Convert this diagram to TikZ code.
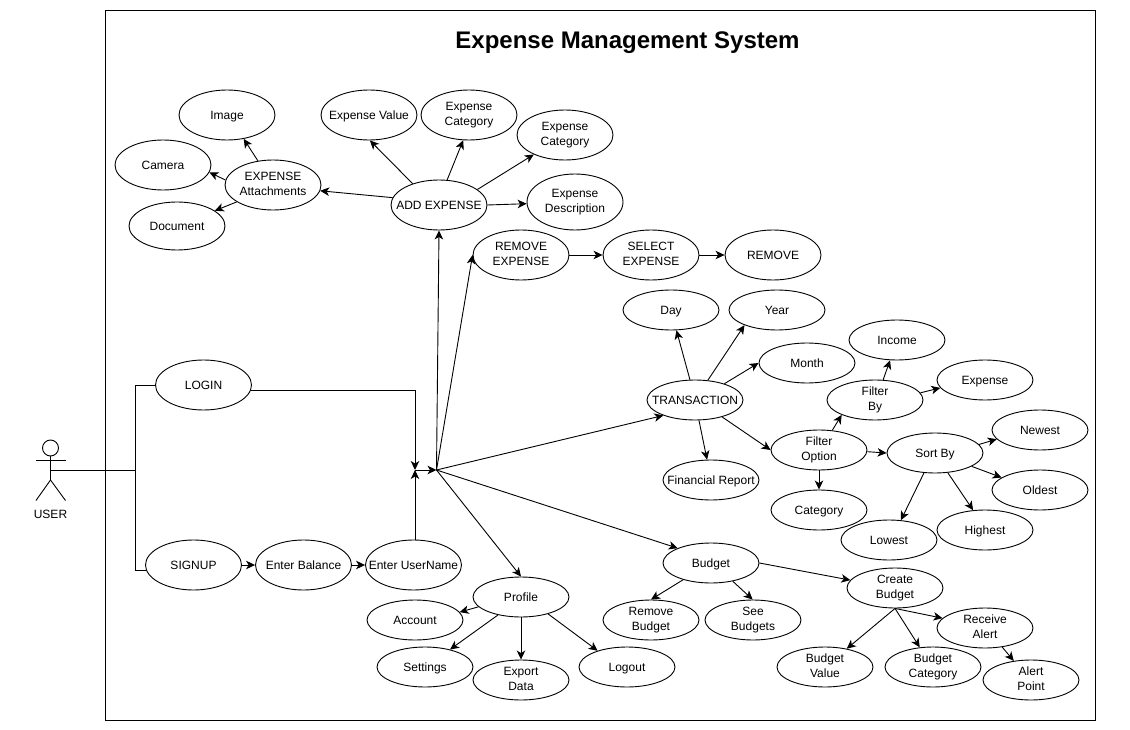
\documentclass[tikz,border=0pt]{standalone}
\usepackage{fontspec}
\setmainfont{Liberation Sans}
\usetikzlibrary{arrows.meta,shapes.geometric}

\begin{document}
\begin{tikzpicture}[x=1pt,y=-1pt]
\tikzset{usecase/.style = {shape=ellipse,draw,line width=0.9pt,inner sep=-50pt,minimum width=96pt,minimum height=40pt,align=center,font=\fontsize{12}{15}\selectfont,execute at begin node={\rule{0pt}{12pt}},execute at end node={\rule[-3pt]{0pt}{3pt}}}}
\tikzset{bigcase/.style = {usecase,minimum height=50pt}}
\tikzset{pair/.style = {execute at end node={\rule[-1pt]{0pt}{1pt}},execute at begin node={\rule{0pt}{18pt}}}}
\tikzset{edge/.style = {->,> = {Stealth[length=9pt,width=8.5pt,inset=2.5pt]},line width=0.9pt}}
\tikzset{wire/.style = {-,line width=0.9pt}}
\useasboundingbox (0,0) rectangle (1130,730);
\node[draw,line width=0.9pt,minimum width=990pt,minimum height=710pt,inner sep=0pt] (frame) at (600.5,365) {};
\node[font=\fontsize{24}{28}\selectfont\bfseries] (title) at (627.5,42.5) {Expense Management System};
% actor
\node[draw,shape=circle,line width=0.9pt,minimum size=16pt,inner sep=0pt] (head) at (50.5,448) {};
\coordinate (waist) at (50.5,480);
\coordinate (armL) at (36,460);
\coordinate (armR) at (65.5,460);
\coordinate (legL) at (36,500.5);
\coordinate (legR) at (65.5,500.5);
\coordinate (belt) at (50.5,470);
\node[font=\fontsize{12}{15}\selectfont] (user) at (50.5,514) {USER};
\draw[wire] (head) to (waist);
\draw[wire] (armL) to (armR);
\draw[wire] (legL) to (waist);
\draw[wire] (legR) to (waist);
\coordinate (split) at (135.5,470);
\coordinate (join) at (415,470);
\coordinate (hub) at (436.5,470);
% login and signup
\node[bigcase] (login) at (203.5,385) {LOGIN};
\node[bigcase] (signup) at (193.5,565) {SIGNUP};
\node[bigcase] (balance) at (303.5,565) {Enter Balance};
\node[bigcase] (username) at (413.5,565) {Enter UserName};
% expense
\node[bigcase] (image) at (227,115) {Image};
\node[bigcase] (camera) at (163,165) {Camera};
\node[bigcase,minimum height=48pt] (document) at (177,226) {Document};
\node[bigcase,pair] (attach) at (273,185) {EXPENSE\\Attachments};
\node[bigcase] (value) at (369,115) {Expense Value};
\node[bigcase,pair] (catA) at (469,115) {Expense\\Category};
\node[bigcase,pair] (catB) at (565,135) {Expense\\Category};
\node[bigcase,pair,minimum height=56pt] (descr) at (575,202) {Expense\\Description};
\node[bigcase] (add) at (439,205) {ADD EXPENSE};
\node[bigcase,pair] (removeexp) at (521,255) {REMOVE\\EXPENSE};
\node[bigcase,pair] (select) at (651,255) {SELECT\\EXPENSE};
\node[bigcase] (remove) at (773,255) {REMOVE};
% transaction
\node[usecase] (day) at (671,310) {Day};
\node[usecase] (year) at (777,310) {Year};
\node[usecase] (month) at (807,363) {Month};
\node[usecase] (trans) at (695,400) {TRANSACTION};
\node[usecase] (income) at (897,340) {Income};
\node[usecase,pair] (filterby) at (875,400) {Filter\\By};
\node[usecase] (expense) at (985,380) {Expense};
\node[usecase,pair] (option) at (819,450) {Filter\\Option};
\node[usecase] (sortby) at (935,453) {Sort By};
\node[usecase] (newest) at (1040,430) {Newest};
\node[usecase] (oldest) at (1040,490) {Oldest};
\node[usecase] (highest) at (985,530) {Highest};
\node[usecase] (lowest) at (889,540) {Lowest};
\node[usecase] (category) at (819,510) {Category};
\node[usecase] (report) at (711,480) {Financial Report};
% budget
\node[usecase] (budget) at (711,563) {Budget};
\node[usecase,pair] (create) at (895,588) {Create\\Budget};
\node[usecase,pair] (rembudget) at (651,620) {Remove\\Budget};
\node[usecase,pair] (see) at (753,620) {See\\Budgets};
\node[usecase,pair] (receive) at (985,628) {Receive\\Alert};
\node[usecase,pair] (budvalue) at (825,667) {Budget\\Value};
\node[usecase,pair] (budcat) at (933,667) {Budget\\Category};
\node[usecase,pair] (alert) at (1031,680) {Alert\\Point};
% profile
\node[usecase] (profile) at (521,597) {Profile};
\node[usecase] (account) at (415,620) {Account};
\node[usecase] (settings) at (425,667) {Settings};
\node[usecase,pair] (export) at (521,680) {Export\\Data};
\node[usecase] (logout) at (627,667) {Logout};
% edges
\draw[wire] (belt) to (split);
\draw[wire] (split) |- (login.west);
\draw[wire] (split) |- (signup.186);
\draw[edge] (login.-6) -| (join);
\draw[edge] (signup) to (balance);
\draw[edge] (balance) to (username);
\draw[edge] (username.north -| join) to (join);
\draw[edge] (join) to (hub);
\draw[edge] (hub) to (add.south);
\draw[edge] (hub) to (removeexp.west);
\draw[edge] (hub) to (trans.206);
\draw[edge] (hub) to (budget.156);
\draw[edge] (hub) to (profile.north);
\draw[edge] (add.171) to (attach.-7);
\draw[edge] (add.141) to (value.-88);
\draw[edge] (add.72) to (catA.257);
\draw[edge] (add.22) to (catB.212);
\draw[edge] (add.0) to (descr.182);
\draw[edge] (attach.122) to (image.-55);
\draw[edge] (attach.174) to (camera.-9);
\draw[edge] (attach.205) to (document.22);
\draw[edge] (removeexp) to (select);
\draw[edge] (select) to (remove);
\draw[edge] (trans.104) to (day.-75);
\draw[edge] (trans.57) to (year.205);
\draw[edge] (trans.29) to (month.west);
\draw[edge] (trans.-79) to (report.101);
\draw[edge] (trans.-32) to (option.west);
\draw[edge] (option.56) to (filterby.204);
\draw[edge] (option.-2) to (sortby.west);
\draw[edge] (option) to (category);
\draw[edge] (filterby.68) to (income.251);
\draw[edge] (filterby.9) to (expense.190);
\draw[edge] (sortby.11) to (newest.192);
\draw[edge] (sortby.-20) to (oldest.162);
\draw[edge] (sortby.-57) to (highest.121);
\draw[edge] (sortby.241) to (lowest.59);
\draw[edge] (budget.211) to (rembudget.north);
\draw[edge] (budget.-40) to (see.91);
\draw[edge] (budget.east) to (create.170);
\draw[edge] (create.south) to (budvalue.40);
\draw[edge] (create.south) to (budcat.124);
\draw[edge] (create.south) to (receive.167);
\draw[edge] (receive.-48) to (alert.132);
\draw[edge] (profile.193) to (account.10);
\draw[edge] (profile.218) to (settings.35);
\draw[edge] (profile) to (export);
\draw[edge] (profile.-32) to (logout.151);
\end{tikzpicture}
\end{document}
